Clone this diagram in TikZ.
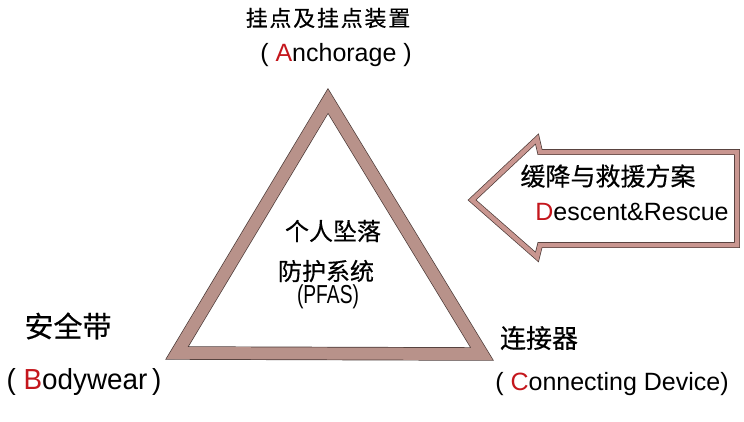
\documentclass[tikz,border=0pt]{standalone}
\usepackage{fontspec}
\setmainfont{Liberation Sans}
\newfontfamily\cjk{Noto Sans CJK SC}[FakeBold=0.4]
\newfontfamily\cjkwide{Noto Sans CJK SC}[LetterSpace=8, FakeBold=0.4]
\definecolor{bandbrown}{HTML}{B8928A}
\definecolor{bandpink}{HTML}{C99690}
\definecolor{edgedark}{HTML}{4A3835}
\definecolor{letterred}{HTML}{C4161C}
\newcommand{\red}[1]{\textcolor{letterred}{#1}}
\tikzset{
  band/.style={draw=edgedark, line width=0.7pt, double distance=#1, line join=miter},
  label/.style={inner sep=0pt, anchor=center, text=black}
}
\begin{document}
\begin{tikzpicture}[x=1pt, y=-1pt]
    \useasboundingbox (0,0) rectangle (744,421);

    % Triangle
    \draw[band=12pt, double=bandbrown] (328,101) -- (482,354) -- (177,353) -- cycle;

    % Arrow: Descent & Rescue
    \draw[band=4.5pt, double=bandpink] (472,200) -- (537,139) -- (540,152) -- (737,152)
        -- (737,245) -- (540,245) -- (537,257) -- cycle;

    % Labels
    \node[label, font=\cjkwide\fontsize{22}{24}\selectfont] (anch) at (328,18) {挂点及挂点装置};
    \node[label, font=\fontsize{25}{28}\selectfont] (anchen) at (336,55) {( \red{A}nchorage )};

    \node[label, font=\cjk\fontsize{24}{26}\selectfont] (pfas1) at (333,231) {个人坠落};
    \node[label, font=\cjk\fontsize{24}{26}\selectfont] (pfas2) at (326,271) {防护系统};
    \node[label, font=\fontsize{26}{28}\selectfont, xscale=0.74] (pfas3) at (328,297) {(PFAS)};

    \node[label, font=\cjk\fontsize{29}{31}\selectfont] (body) at (68,326) {安全带};
    \node[label, font=\fontsize{29}{31}\selectfont, xscale=0.96] (bodyen) at (84,382) {( \red{B}odywear\,)};

    \node[label, font=\cjk\fontsize{26}{28}\selectfont] (conn) at (539,338) {连接器};
    \node[label, font=\fontsize{25}{28}\selectfont] (connen) at (612,384) {( \red{C}onnecting Device)};

    \node[label, font=\cjk\fontsize{25}{27}\selectfont] (resc) at (608,176) {缓降与救援方案};
    \node[label, font=\fontsize{25}{27}\selectfont] (rescen) at (632,212) {\red{D}escent\&Rescue};
\end{tikzpicture}
\end{document}
